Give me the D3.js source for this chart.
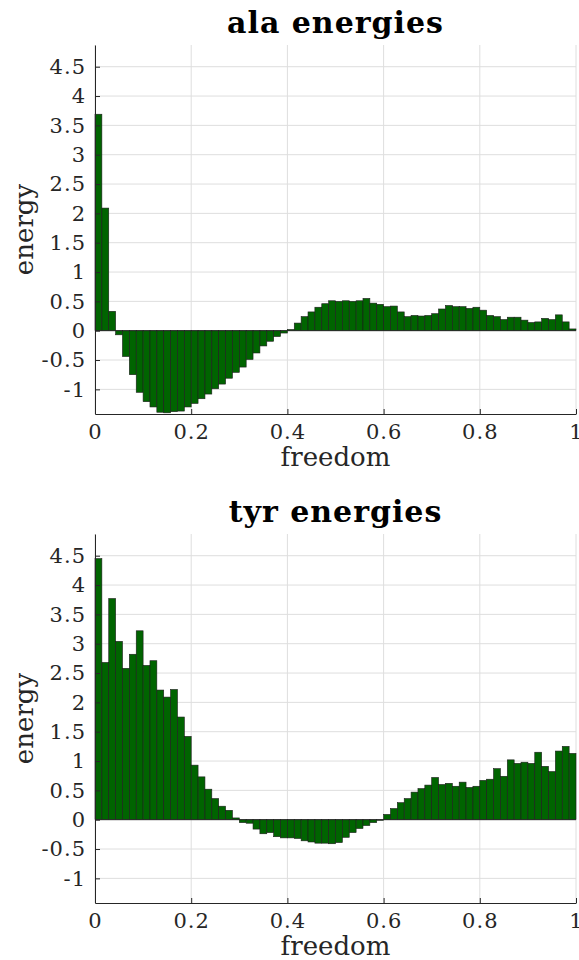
<!DOCTYPE html>
<html>
<head>
<meta charset="utf-8">
<script src="https://cdn.jsdelivr.net/npm/d3@7"></script>
<style>
  body { margin: 0; background: #fff; }
  svg text { font-family: "DejaVu Serif", serif; fill: #262626; }
</style>
</head>
<body>
<div id="canvas"></div>
<script>
// bin values (70 bins over freedom 0..1)
var alaEnergy = [
  3.69, 2.09, 0.33, -0.07, -0.44, -0.75, -1.05, -1.21, -1.30, -1.39,
  -1.40, -1.38, -1.37, -1.30, -1.24, -1.16, -1.08, -0.99, -0.91, -0.81,
  -0.71, -0.62, -0.49, -0.38, -0.26, -0.18, -0.10, -0.04, 0.02, 0.13,
  0.24, 0.32, 0.40, 0.46, 0.51, 0.50, 0.51, 0.50, 0.51, 0.55,
  0.47, 0.45, 0.41, 0.42, 0.32, 0.24, 0.26, 0.25, 0.26, 0.29,
  0.37, 0.43, 0.41, 0.41, 0.38, 0.40, 0.35, 0.26, 0.24, 0.19,
  0.23, 0.23, 0.18, 0.14, 0.15, 0.21, 0.19, 0.27, 0.15, 0.03
];
var tyrEnergy = [
  4.45, 2.68, 3.77, 3.04, 2.58, 2.82, 3.22, 2.63, 2.71, 2.21,
  2.09, 2.22, 1.75, 1.42, 0.93, 0.73, 0.52, 0.36, 0.23, 0.16,
  0.03, -0.05, -0.06, -0.16, -0.24, -0.22, -0.29, -0.31, -0.31, -0.32,
  -0.36, -0.38, -0.40, -0.40, -0.41, -0.39, -0.30, -0.22, -0.15, -0.10,
  -0.05, -0.01, 0.09, 0.19, 0.29, 0.36, 0.47, 0.53, 0.59, 0.72,
  0.60, 0.62, 0.57, 0.64, 0.55, 0.57, 0.67, 0.69, 0.87, 0.74,
  1.02, 0.96, 0.98, 0.96, 1.15, 0.91, 0.82, 1.17, 1.25, 1.13
];
var titles = ["ala energies", "tyr energies"];
var xTicks = [0, 0.2, 0.4, 0.6, 0.8, 1];
var xTickLabels = ["0", "0.2", "0.4", "0.6", "0.8", "1"];
var yTicks = [-1, -0.5, 0, 0.5, 1, 1.5, 2, 2.5, 3, 3.5, 4, 4.5];
var yTickLabels = ["-1", "-0.5", "0", "0.5", "1", "1.5", "2", "2.5", "3", "3.5", "4", "4.5"];
var binWidth = 1 / 70;

var width = 579, height = 960;
var plotLeft = 95, plotRight = 576;
var panelTops = [45, 534];
var plotHeight = 369;

var svg = d3
  .select("#canvas")
  .append("svg")
  .attr("width", width)
  .attr("height", height);

var xScale = d3.scaleLinear().domain([0, 1]).range([plotLeft, plotRight]);

function drawPanel(values, title, top) {
  var bottom = top + plotHeight;
  var yScale = d3.scaleLinear().domain([-1.42, 4.87]).range([bottom, top]);
  var g = svg.append("g");

  // grid
  g.selectAll(".hgrid")
    .data(yTicks)
    .enter()
    .append("line")
    .attr("x1", plotLeft)
    .attr("x2", plotRight)
    .attr("y1", (d) => yScale(d))
    .attr("y2", (d) => yScale(d))
    .attr("stroke", "#dedede")
    .attr("stroke-width", 1);
  g.selectAll(".vgrid")
    .data(xTicks)
    .enter()
    .append("line")
    .attr("x1", (d) => xScale(d))
    .attr("x2", (d) => xScale(d))
    .attr("y1", top)
    .attr("y2", bottom)
    .attr("stroke", "#dedede")
    .attr("stroke-width", 1);

  // bars
  g.selectAll("rect")
    .data(values)
    .enter()
    .append("rect")
    .attr("x", (d, i) => xScale(i * binWidth))
    .attr("width", xScale(binWidth) - xScale(0))
    .attr("y", (d) => yScale(Math.max(0, d)))
    .attr("height", (d) => Math.abs(yScale(d) - yScale(0)))
    .attr("fill", "#006400")
    .attr("stroke", "#1c1c1c")
    .attr("stroke-width", 0.6);

  // baseline
  g.append("line")
    .attr("x1", plotLeft)
    .attr("x2", plotRight)
    .attr("y1", yScale(0))
    .attr("y2", yScale(0))
    .attr("stroke", "#262626")
    .attr("stroke-width", 0.8);

  // axes
  var x_axis = d3
    .axisBottom(xScale)
    .tickValues(xTicks)
    .tickFormat((d, i) => xTickLabels[i])
    .tickSize(-5)
    .tickSizeOuter(0)
    .tickPadding(10);
  var xg = g.append("g")
    .attr("transform", "translate(0," + bottom + ")")
    .call(x_axis);

  var y_axis = d3
    .axisLeft(yScale)
    .tickValues(yTicks)
    .tickFormat((d, i) => yTickLabels[i])
    .tickSize(-5)
    .tickSizeOuter(0)
    .tickPadding(9);
  var yg = g.append("g")
    .attr("transform", "translate(" + plotLeft + ",0)")
    .call(y_axis);

  [xg, yg].forEach(function (a) {
    a.attr("font-family", null).attr("font-size", null);
    a.selectAll("path, line").attr("stroke", "#262626").attr("stroke-width", 1);
    a.selectAll("text")
      .style("font-size", "21px")
      .style("letter-spacing", "1px")
      .attr("fill", "#262626");
  });

  // title and labels
  g.append("text")
    .attr("x", (plotLeft + plotRight) / 2)
    .attr("y", top - 12)
    .attr("text-anchor", "middle")
    .style("font-size", "30px")
    .style("font-weight", "bold")
    .style("letter-spacing", "1px")
    .style("fill", "#000")
    .text(title);

  g.append("text")
    .attr("x", (plotLeft + plotRight) / 2)
    .attr("y", bottom + 52)
    .attr("text-anchor", "middle")
    .style("font-size", "26px")
    .text("freedom");

  g.append("text")
    .attr("transform", "translate(33," + (top + bottom) / 2 + ") rotate(-90)")
    .attr("text-anchor", "middle")
    .style("font-size", "26px")
    .text("energy");
}

drawPanel(alaEnergy, titles[0], panelTops[0]);
drawPanel(tyrEnergy, titles[1], panelTops[1]);
</script>
</body>
</html>
